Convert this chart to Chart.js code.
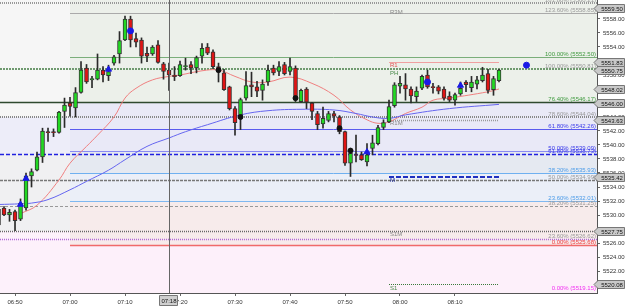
<!DOCTYPE html>
<html>
<head>
<meta charset="utf-8">
<script src="https://cdn.jsdelivr.net/npm/chart.js@4/dist/chart.umd.min.js"></script>
<style>
  html, body { margin: 0; padding: 0; background: #fff; }
  #wrap { width: 625px; height: 306px; }
</style>
</head>
<body>
<div id="wrap"><canvas id="chart"></canvas></div>
<script>
// 1-minute candles
const candleTimes = ['06:47','06:48','06:49','06:50','06:51','06:52','06:53','06:54','06:55','06:56','06:57','06:58','06:59',
  '07:00','07:01','07:02','07:03','07:04','07:05','07:06','07:07','07:08','07:09','07:10','07:11','07:12','07:13','07:14',
  '07:15','07:16','07:17','07:18','07:19','07:20','07:21','07:22','07:23','07:24','07:25','07:26','07:27','07:28','07:29',
  '07:30','07:31','07:32','07:33','07:34','07:35','07:36','07:37','07:38','07:39','07:40','07:41','07:42','07:43','07:44',
  '07:45','07:46','07:47','07:48','07:49','07:50','07:51','07:52','07:53','07:54','07:55','07:56','07:57','07:58','07:59',
  '08:00','08:01','08:02','08:03','08:04','08:05','08:06','08:07','08:08','08:09','08:10','08:11','08:12','08:13','08:14',
  '08:15','08:16','08:17','08:18'];
const opens = [5528.6,5531.0,5530.0,5530.5,5529.4,5531.0,5535.6,5536.4,5538.3,5541.9,5541.9,5541.8,5544.8,
  5546.0,5545.3,5547.5,5551.0,5549.3,5549.4,5550.7,5549.9,5551.7,5553.0,5555.0,5558.0,5555.2,5555.0,5553.1,
  5553.0,5554.3,5551.6,5550.7,5550.0,5549.9,5551.2,5551.5,5551.0,5552.7,5554.0,5553.3,5551.2,5550.3,5548.3,
  5545.2,5544.0,5546.7,5548.6,5548.3,5547.8,5549.0,5551.0,5550.5,5551.5,5550.5,5551.0,5546.2,5548.0,5546.0,
  5544.5,5543.0,5543.5,5544.5,5544.0,5541.9,5537.4,5538.6,5538.6,5537.6,5539.5,5540.2,5542.5,5543.3,5545.6,
  5548.4,5548.6,5548.0,5546.9,5548.1,5550.0,5548.3,5548.3,5548.0,5547.0,5546.4,5547.3,5549.0,5548.2,5548.7,
  5549.2,5550.2,5547.9,5549.2];
const highs = [5531.2,5531.2,5530.8,5530.7,5532.3,5536.0,5536.6,5539.0,5542.4,5542.4,5542.3,5544.8,5546.7,
  5546.8,5548.2,5551.9,5551.5,5549.8,5553.0,5551.2,5551.4,5552.8,5556.2,5558.4,5558.4,5556.0,5555.3,5554.0,
  5554.2,5554.9,5551.8,5551.7,5551.2,5552.0,5552.4,5551.9,5552.7,5554.5,5554.5,5553.6,5551.7,5550.8,5548.4,
  5545.5,5546.7,5550.5,5550.4,5549.1,5549.3,5551.4,5551.4,5551.9,5551.8,5552.4,5551.3,5548.0,5548.2,5546.1,
  5544.8,5545.4,5544.8,5544.8,5544.2,5542.0,5539.5,5541.4,5539.0,5540.2,5541.4,5542.8,5543.6,5546.4,5548.9,
  5549.8,5550.2,5548.3,5548.3,5550.0,5550.7,5548.8,5548.5,5548.3,5547.6,5547.4,5549.0,5549.2,5549.8,5549.8,
  5551.1,5550.8,5549.8,5550.8];
const lows = [5528.4,5529.9,5529.1,5527.75,5529.2,5530.7,5534.0,5536.3,5537.5,5540.5,5541.2,5541.7,5542.5,
  5544.1,5544.0,5547.4,5548.8,5548.2,5549.3,5549.0,5549.2,5551.4,5551.7,5554.9,5554.0,5554.0,5551.7,5551.9,
  5552.8,5551.7,5549.4,5547.8,5549.2,5549.8,5550.7,5550.2,5550.3,5551.7,5552.9,5550.9,5549.0,5547.8,5545.0,
  5541.4,5542.2,5546.4,5546.9,5546.9,5546.4,5548.5,5550.0,5549.9,5550.0,5550.0,5546.2,5546.1,5545.2,5543.6,
  5542.2,5542.4,5543.3,5543.3,5541.6,5537.1,5535.5,5537.6,5537.8,5537.0,5538.6,5540.0,5542.2,5543.2,5545.4,
  5547.4,5546.4,5546.0,5546.2,5547.9,5548.1,5547.4,5547.3,5546.4,5546.2,5545.7,5547.1,5547.6,5547.6,5548.0,
  5549.0,5547.4,5547.1,5549.0];
const closes = [5530.8,5530.0,5530.4,5529.2,5531.7,5535.6,5536.2,5538.3,5542.0,5541.75,5541.75,5544.7,5545.7,
  5545.5,5547.5,5550.7,5549.0,5549.5,5550.7,5550.0,5550.5,5552.6,5554.9,5558.0,5555.0,5554.7,5552.7,5552.7,
  5554.0,5551.8,5550.5,5550.0,5549.75,5551.5,5551.3,5551.0,5552.5,5553.8,5553.1,5551.2,5550.4,5547.9,5545.2,
  5543.2,5546.5,5548.5,5548.3,5547.7,5548.7,5550.7,5550.3,5551.2,5550.2,5551.2,5546.4,5547.8,5546.1,5544.8,
  5542.9,5543.8,5544.5,5544.1,5541.9,5537.4,5538.8,5538.5,5537.9,5538.6,5540.3,5542.5,5543.2,5545.5,5548.6,
  5548.8,5548.0,5547.0,5547.7,5549.8,5548.3,5548.2,5547.7,5546.7,5546.4,5547.2,5548.1,5548.6,5549.0,5549.3,
  5550.0,5547.8,5549.5,5550.7];

// moving averages
const fastTimes = ['06:51','06:54','06:58','07:00','07:03','07:05','07:08','07:10','07:12','07:15','07:18','07:20',
  '07:24','07:27','07:30','07:33','07:36','07:40','07:44','07:48','07:51','07:54','07:56','07:58','08:01','08:04',
  '08:06','08:09','08:16','08:18'];
const fastValues = [5530.2,5531.4,5535.0,5537.4,5539.8,5541.4,5544.0,5546.7,5548.1,5549.3,5549.8,5550.0,
  5550.6,5550.7,5549.8,5549.0,5549.0,5549.7,5548.8,5547.1,5545.0,5543.6,5543.1,5543.3,5544.5,5545.4,
  5546.4,5546.7,5547.6,5548.0];
const slowTimes = ['06:47','06:51','06:53','06:56','07:00','07:03','07:07','07:10','07:14','07:18','07:21','07:25',
  '07:31','07:36','07:42','07:48','07:52','07:55','07:58','08:01','08:09','08:18'];
const slowValues = [5531.5,5531.6,5531.7,5532.2,5533.6,5534.8,5536.4,5537.9,5539.8,5541.0,5541.9,5542.9,
  5544.3,5544.9,5545.1,5545.0,5544.5,5544.0,5543.8,5544.3,5545.2,5545.8];

// signal markers
const arrowTimes = ['06:51','06:52','07:07','07:54','08:11'];
const arrowValues = [5531.5,5535.2,5550.8,5539.0,5548.5];
const dotTimes = ['07:11','08:05','08:23'];
const dotValues = [5556.3,5549.0,5551.4];
const markTimes = ['07:27','07:31','07:41','07:49','07:51'];
const markValues = [5550.7,5544.0,5546.7,5542.4,5539.2];

// axes
const axisTimes = ['06:50','07:00','07:10','07:20','07:30','07:40','07:50','08:00','08:10'];
const priceTicks = [5558,5556,5554,5552,5550,5548,5546,5544,5542,5540,5538,5536,5534,5532,5530,5528,5526,5524,5522,5520];
const priceTags = [5559.50,5551.83,5550.75,5548.02,5546.00,5543.63,5535.42,5527.75,5520.08];
const cursorTime = '07:18';

// fibonacci levels with their labels
const fibTexts = ['161.80% (5560.21)','123.60% (5558.85)','100.00% (5552.50)','100.00% (5550.81)','76.40% (5546.17)',
  '78.60% (5544.04)','61.80% (5542.26)','50.00% (5539.09)','61.80% (5538.73)','38.20% (5535.93)','50.00% (5534.99)',
  '23.60% (5532.01)','38.20% (5531.25)','23.60% (5526.62)','0.00% (5525.68)','0.00% (5519.15)'];
const fibValues = [5560.3,5558.85,5552.50,5550.81,5546.17,5544.04,5542.26,5539.09,5538.73,5535.93,5534.99,
  5532.01,5531.25,5526.62,5525.68,5519.15];
const fibStarts = ['06:47','07:00','07:00','06:47','06:47','06:47','07:00','07:00','06:47','07:00','06:47',
  '07:00','06:47','06:47','07:00',null];

// pivots
const pivotNames = ['R3M','R1','PH','R1M','M','S1M','S1'];
const pivotValues = [5559.50,5551.83,5550.75,5543.63,5535.42,5527.75,5520.08];
const pivotStarts = [null,'07:58','06:47','07:58','07:58','06:47','07:58'];
const pivotEnd = '08:18';

// shaded zones: [start, end, top, bottom]
const zoneStarts = ['06:47','06:47','06:47','06:47','07:00','07:00','07:00','07:00','07:00','07:00'];
const zoneEnds   = ['07:00','07:00','07:00','07:00','08:36','08:36','08:36','08:36','08:36','08:36'];
const zoneTops    = [5561,5544.04,5538.73,5527.75,5561,5546.0,5539.09,5535.93,5532.01,5525.68];
const zoneBottoms = [5544.04,5538.73,5527.75,5518,5546.0,5539.09,5535.93,5532.01,5525.68,5518];

// ---- styles ----
const zoneColors = ['#f6f6f6','#ededf9','#f0f0f2','#fdf1fb','#ecf0ea','#e9e9f7','#e5e9f1','#ebeff8','#f7ebeb','#fdf0fa'];
const fibStyles = [
  {c:'#999', w:2, d:[1,1], t:'#999'},
  {c:'#aaa', w:1, d:[], t:'#999'},
  {c:'#7aae7a', w:1, d:[], t:'#3f9a3f'},
  {c:'#6f9a6f', w:2, d:[2,1], t:'#999'},
  {c:'#2f4a2f', w:1.5, d:[], t:'#3f9a3f'},
  {c:'#888', w:2, d:[1,1], t:'#999'},
  {c:'#5a5aee', w:1, d:[], t:'#3b3bea'},
  {c:'#8a8af2', w:1, d:[], t:'#3b3bea'},
  {c:'#2020e0', w:1.5, d:[4,2], t:'#3b3bea'},
  {c:'#6fb0f0', w:1, d:[], t:'#4b9be8'},
  {c:'#777', w:1.5, d:[3,1], t:'#999'},
  {c:'#80b8f0', w:1, d:[], t:'#4b9be8'},
  {c:'#999', w:1, d:[3,2], t:'#999'},
  {c:'#b06ad8', w:1.5, d:[1,1], t:'#999'},
  {c:'#f06a6a', w:1.5, d:[], t:'#f04040'},
  {c:'#f0a0f0', w:1, d:[], t:'#f030f0'}
];
const pivotStyles = [
  {c:'#aaa', w:0, d:[], t:'#888'},
  {c:'#f0a0a0', w:1, d:[], t:'#e05050'},
  {c:'#6a8f6a', w:0, d:[], t:'#4a8a4a'},
  {c:'#999', w:1.5, d:[1,1], t:'#888'},
  {c:'#2030c0', w:2, d:[5,2], t:'#2030a0'},
  {c:'#666', w:1.5, d:[1,1], t:'#888'},
  {c:'#3a7a3a', w:1, d:[1,1], t:'#4a8a4a'}
];
const FONT = '6px "Liberation Sans", Arial, sans-serif';

function toMin(s) {
  var p = s.split(':');
  return parseInt(p[0], 10) * 60 + parseInt(p[1], 10);
}
function fmtMin(m) {
  var h = Math.floor(m / 60), mm = Math.round(m - h * 60);
  return (h < 10 ? '0' : '') + h + ':' + (mm < 10 ? '0' : '') + mm;
}

const xMin = 407.27, xMax = 515.82;
const yMin = 5518.86, yMax = 5560.71;

const up = closes.map(function(c, i) { return c >= opens[i]; });
const wickData = candleTimes.map(function(t, i) { return {x: toMin(t), y: [lows[i], highs[i]]}; });
const bodyData = candleTimes.map(function(t, i) { return {x: toMin(t), y: [opens[i], closes[i]]}; });
function pts(ts, vs) { return ts.map(function(t, i) { return {x: toMin(t), y: vs[i]}; }); }

function hline(ctx, xs, v, x1, x2, st) {
  if (!st.w) return;
  var py = Math.round(xs.y.getPixelForValue(v)) + (st.w % 2 ? 0.5 : 0);
  ctx.beginPath();
  ctx.strokeStyle = st.c;
  ctx.lineWidth = st.w;
  ctx.setLineDash(st.d);
  ctx.moveTo(x1, py);
  ctx.lineTo(x2, py);
  ctx.stroke();
}

const overlay = {
  id: 'overlay',
  beforeDraw(chart) {
    const ctx = chart.ctx, a = chart.chartArea, x = chart.scales.x, y = chart.scales.y;
    ctx.save();
    ctx.beginPath();
    ctx.rect(a.left, a.top, a.width, a.height);
    ctx.clip();
    for (var i = 0; i < zoneColors.length; i++) {
      var x1 = x.getPixelForValue(toMin(zoneStarts[i]));
      var x2 = x.getPixelForValue(toMin(zoneEnds[i]));
      if (zoneStarts[i] === '06:47') x1 = a.left;
      if (zoneEnds[i] === '08:36') x2 = a.right;
      var y1 = y.getPixelForValue(zoneTops[i]);
      var y2 = y.getPixelForValue(zoneBottoms[i]);
      ctx.fillStyle = zoneColors[i];
      ctx.fillRect(Math.round(x1), Math.round(y1), Math.round(x2) - Math.round(x1), Math.round(y2) - Math.round(y1));
    }
    ctx.restore();
  },
  beforeDatasetsDraw(chart) {
    const ctx = chart.ctx, a = chart.chartArea, x = chart.scales.x, y = chart.scales.y;
    const sc = {x: x, y: y};
    ctx.save();
    ctx.beginPath();
    ctx.rect(a.left, a.top, a.width, a.height);
    ctx.clip();
    var i, x1;
    for (i = 0; i < fibValues.length; i++) {
      if (!fibStarts[i]) continue;
      x1 = fibStarts[i] === '06:47' ? a.left : x.getPixelForValue(toMin(fibStarts[i]));
      hline(ctx, sc, fibValues[i], x1, a.right, fibStyles[i]);
    }
    var xe = x.getPixelForValue(toMin(pivotEnd));
    for (i = 0; i < pivotValues.length; i++) {
      if (!pivotStarts[i]) continue;
      if (pivotStarts[i] === '06:47') {
        hline(ctx, sc, pivotValues[i], a.left, a.right, pivotStyles[i]);
      } else {
        hline(ctx, sc, pivotValues[i], x.getPixelForValue(toMin(pivotStarts[i])), xe, pivotStyles[i]);
      }
    }
    ctx.setLineDash([]);
    ctx.font = FONT;
    // fib texts on the right
    ctx.textAlign = 'right';
    ctx.textBaseline = 'bottom';
    for (i = 0; i < fibTexts.length; i++) {
      ctx.fillStyle = fibStyles[i].t;
      ctx.fillText(fibTexts[i], a.right - 1, Math.round(y.getPixelForValue(fibValues[i])) + 0.5);
    }
    // pivot names
    ctx.textAlign = 'left';
    ctx.textBaseline = 'middle';
    var xp = x.getPixelForValue(toMin('07:58')) + 1;
    for (i = 0; i < pivotNames.length; i++) {
      ctx.fillStyle = pivotStyles[i].t;
      ctx.fillText(pivotNames[i], xp, y.getPixelForValue(pivotValues[i]) + 3.5);
    }
    ctx.restore();
  },
  afterDatasetsDraw(chart) {
    const ctx = chart.ctx, a = chart.chartArea, x = chart.scales.x;
    var px = Math.round(x.getPixelForValue(toMin(cursorTime))) + 0.5;
    ctx.save();
    ctx.strokeStyle = '#666';
    ctx.lineWidth = 1;
    ctx.beginPath();
    ctx.moveTo(px, a.top);
    ctx.lineTo(px, a.bottom);
    ctx.stroke();
    ctx.restore();
  },
  afterDraw(chart) {
    const ctx = chart.ctx, a = chart.chartArea, x = chart.scales.x, y = chart.scales.y;
    ctx.save();
    ctx.font = FONT;
    ctx.textAlign = 'center';
    ctx.textBaseline = 'middle';
    var i, py;
    for (i = 0; i < priceTags.length; i++) {
      py = Math.round(y.getPixelForValue(priceTags[i])) + 0.5;
      ctx.beginPath();
      ctx.moveTo(a.right - 3, py);
      ctx.lineTo(a.right + 1, py - 4);
      ctx.lineTo(chart.width - 0.5, py - 4);
      ctx.lineTo(chart.width - 0.5, py + 4);
      ctx.lineTo(a.right + 1, py + 4);
      ctx.closePath();
      ctx.fillStyle = '#c9c9c9';
      ctx.fill();
      ctx.strokeStyle = '#777';
      ctx.lineWidth = 1;
      ctx.stroke();
      ctx.fillStyle = '#111';
      ctx.fillText(priceTags[i].toFixed(2), (a.right + chart.width) / 2 + 1, py + 0.5);
    }
    // cursor time box
    var px = Math.round(x.getPixelForValue(toMin(cursorTime)));
    ctx.fillStyle = '#cfcfcf';
    ctx.strokeStyle = '#777';
    ctx.beginPath();
    ctx.rect(px - 9.5, a.bottom + 2.5, 18, 10);
    ctx.fill();
    ctx.stroke();
    ctx.fillStyle = '#111';
    ctx.fillText(cursorTime, px, a.bottom + 8);
    ctx.restore();
  }
};

Chart.defaults.font.family = '"Liberation Sans", Arial, sans-serif';
Chart.defaults.font.size = 6;
Chart.defaults.color = '#333';

new Chart(document.getElementById('chart'), {
  type: 'bar',
  data: {
    datasets: [
      {type: 'line', data: pts(fastTimes, fastValues), borderColor: '#f08080', borderWidth: 1,
        pointRadius: 0, tension: 0.4, order: 6},
      {type: 'line', data: pts(slowTimes, slowValues), borderColor: '#6666f0', borderWidth: 1,
        pointRadius: 0, tension: 0.4, order: 5},
      {type: 'bar', data: wickData, backgroundColor: '#2a2a2a', barThickness: 1, grouped: false, order: 4},
      {type: 'bar', data: bodyData, grouped: false, order: 3, barThickness: 4, minBarLength: 1,
        borderSkipped: false, borderWidth: 1, borderColor: '#333',
        backgroundColor: up.map(function(u) { return u ? '#22d822' : '#e01414'; })},
      {type: 'scatter', data: pts(markTimes, markValues), pointStyle: 'circle', pointRadius: 2.5,
        backgroundColor: '#111', borderColor: '#111', order: 2},
      {type: 'scatter', data: pts(arrowTimes, arrowValues), pointStyle: 'triangle', pointRadius: 3.5,
        backgroundColor: '#1a1ae6', borderColor: '#1a1ae6', order: 1},
      {type: 'scatter', data: pts(dotTimes, dotValues), pointStyle: 'circle', pointRadius: 3,
        backgroundColor: '#1a1ae6', borderColor: '#1a1ae6', order: 0}
    ]
  },
  options: {
    responsive: true,
    maintainAspectRatio: false,
    animation: false,
    devicePixelRatio: 1,
    layout: {padding: 0, autoPadding: false},
    plugins: {legend: {display: false}, tooltip: {enabled: false}},
    scales: {
      x: {
        type: 'linear',
        min: xMin,
        max: xMax,
        offset: false,
        afterBuildTicks: function(scale) {
          scale.ticks = axisTimes.map(function(t) { return {value: toMin(t)}; });
        },
        afterFit: function(scale) {
          scale.height = 13;
          scale.paddingLeft = 0;
          scale.paddingRight = 0;
        },
        ticks: {autoSkip: false, maxRotation: 0, padding: 3, color: '#333',
          callback: function(v) { return fmtMin(v); }},
        grid: {drawOnChartArea: false, drawTicks: true, tickLength: 3, color: '#666', offset: false},
        border: {display: true, color: '#555'}
      },
      y: {
        type: 'linear',
        position: 'right',
        min: yMin,
        max: yMax,
        afterBuildTicks: function(scale) {
          scale.ticks = priceTicks.map(function(v) { return {value: v}; });
        },
        afterFit: function(scale) {
          scale.width = 28;
          scale.paddingTop = 0;
          scale.paddingBottom = 0;
        },
        ticks: {padding: 3, color: '#333', callback: function(v) { return v.toFixed(2); }},
        grid: {drawOnChartArea: false, drawTicks: true, tickLength: 3, color: '#666'},
        border: {display: true, color: '#555'}
      }
    }
  },
  plugins: [overlay]
});
</script>
</body>
</html>
